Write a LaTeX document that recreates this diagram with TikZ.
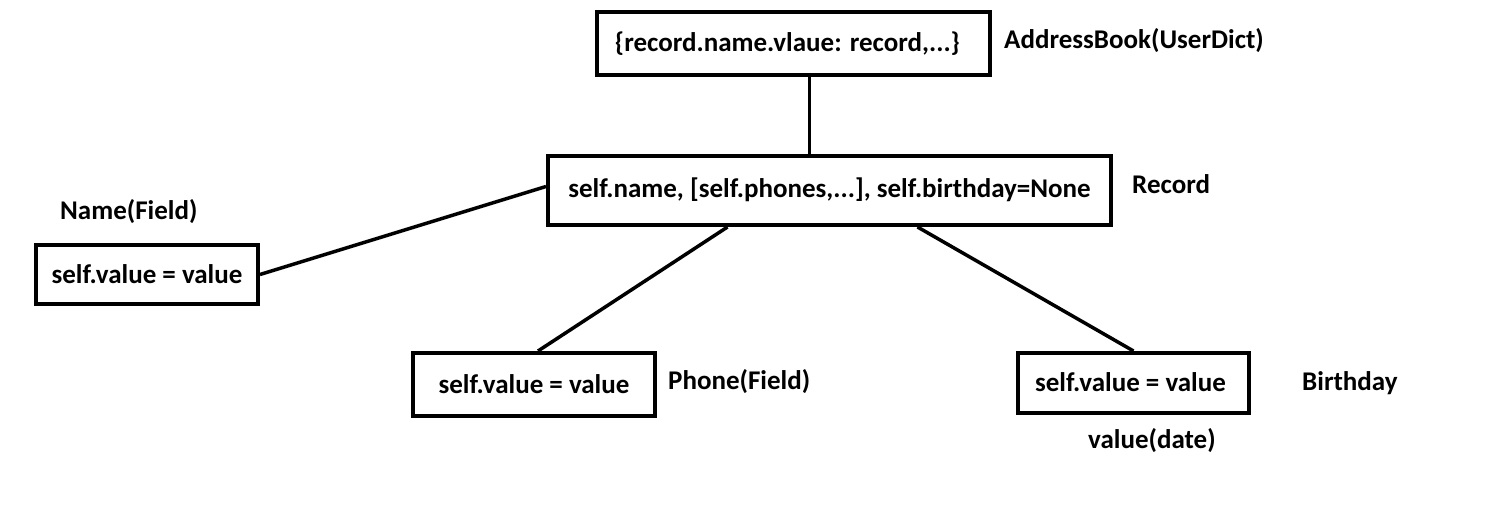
\documentclass[tikz,border=0pt]{standalone}
\usepackage{fontspec}
\setmainfont{Carlito}
\usepackage{tikz}
\usetikzlibrary{positioning}

\tikzset{
    box/.style={draw=black, line width=4pt, fill=white, inner sep=0pt,
        font=\fontsize{27}{30}\selectfont\bfseries},
    lbl/.style={anchor=west, inner sep=0pt, font=\fontsize{27}{30}\selectfont\bfseries},
    link/.style={line width=3.5pt}
}

\begin{document}
\begin{tikzpicture}[x=1pt, y=-1pt]
        \useasboundingbox (0,0) rectangle (1497,527);

        \node[box, minimum width=393pt, minimum height=63pt] (book) at (793.5, 43.5) {\hspace*{-12pt}\raisebox{2pt}{\{record.name.vlaue: record,...\}}};
        \node[box, minimum width=563pt, minimum height=69pt] (rec) at (829.5, 190.5) {\raisebox{6pt}{self.name, [self.phones,...], self.birthday=None}};
        \node[box, minimum width=222pt, minimum height=59pt] (name) at (147, 274.5) {self.value = value};
        \node[box, minimum width=242pt, minimum height=63pt] (phone) at (534, 384.5) {self.value = value};
        \node[box, minimum width=231pt, minimum height=60pt] (bday) at (1133.5, 383) {\hspace*{-6pt}\raisebox{2pt}{self.value = value}};

        \node[lbl] (bookl) at (1004, 41) {AddressBook(UserDict)};
        \node[lbl] (recl) at (1132, 184) {Record};
        \node[lbl] (namel) at (60, 212) {Name(Field)};
        \node[lbl] (phonel) at (668, 382) {Phone(Field)};
        \node[lbl] (bdayl) at (1302, 383) {Birthday};
        \node[lbl] (datel) at (1088, 441) {value(date)};

        \draw[link] ([xshift=16pt]book.south) -- ([xshift=16pt]book.south |- rec.north);
        \draw[link] ([yshift=4pt]rec.west) -- (name.east);
        \draw[link] ([xshift=-102pt]rec.south) -- ([xshift=4pt]phone.north);
        \draw[link] ([xshift=88pt]rec.south) -- (bday.north);
\end{tikzpicture}
\end{document}
